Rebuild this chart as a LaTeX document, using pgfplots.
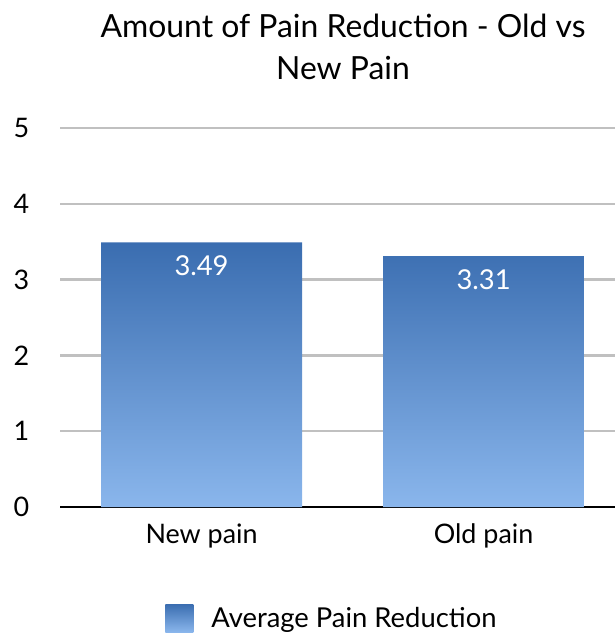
\documentclass[border=0pt]{standalone}
\usepackage{pgfplots}
\pgfplotsset{compat=1.18}
\usepackage{fontspec}
\setmainfont{Lato}
\definecolor{bartop}{HTML}{3A6DB0}
\definecolor{barbot}{HTML}{8AB6EC}
\definecolor{gridc}{HTML}{C0C0C0}
\begin{document}
\begin{tikzpicture}
\useasboundingbox (0bp,0bp) rectangle (615bp,634bp);
\begin{axis}[
  at={(60bp,127bp)}, anchor=south west,
  scale only axis, width=555bp, height=379bp,
  xmin=-0.502, xmax=1.466, ymin=0, ymax=5,
  ytick={0,1,2,3,4,5}, xtick={0,1},
  xticklabels={New pain, Old pain},
  ymajorgrids, grid style={gridc, line width=2.5bp},
  major tick length=0pt,
  axis x line*=bottom, axis y line*=left,
  y axis line style={draw=none},
  x axis line style={black, line width=2.5bp, -},
  /pgf/number format/assume math mode=true,
  tick label style={font=\fontsize{27}{32}\selectfont, text=black},
  yticklabel style={anchor=west, xshift=-50bp},
  xticklabel style={anchor=north, yshift=-13bp},
  clip=false,
  legend style={at={(0.49,-0.293)}, anchor=center, draw=none, fill=none,
    font=\fontsize{27.5}{32}\selectfont, legend cell align=left},
  legend image code/.code={\shade[top color=bartop,bottom color=barbot] (0bp,-14bp) rectangle (28bp,14bp);},
]
\addplot[ybar, bar width=201bp, bar shift=0pt, draw=none, top color=bartop, bottom color=barbot,
  nodes near coords,
  nodes near coords style={anchor=north, yshift=-10bp, text=white, font=\fontsize{27.5}{32}\selectfont,
    /pgf/number format/.cd, fixed, fixed zerofill, precision=2, assume math mode=true}]
  coordinates {(0,3.49) (1,3.31)};
\addlegendentry{\hspace{16bp}Average Pain Reduction}
\end{axis}
\node[align=center, font=\fontsize{32}{42}\selectfont] at (343bp,587bp) {Amount of Pain Reduction - Old vs\\New Pain};
\end{tikzpicture}
\end{document}
